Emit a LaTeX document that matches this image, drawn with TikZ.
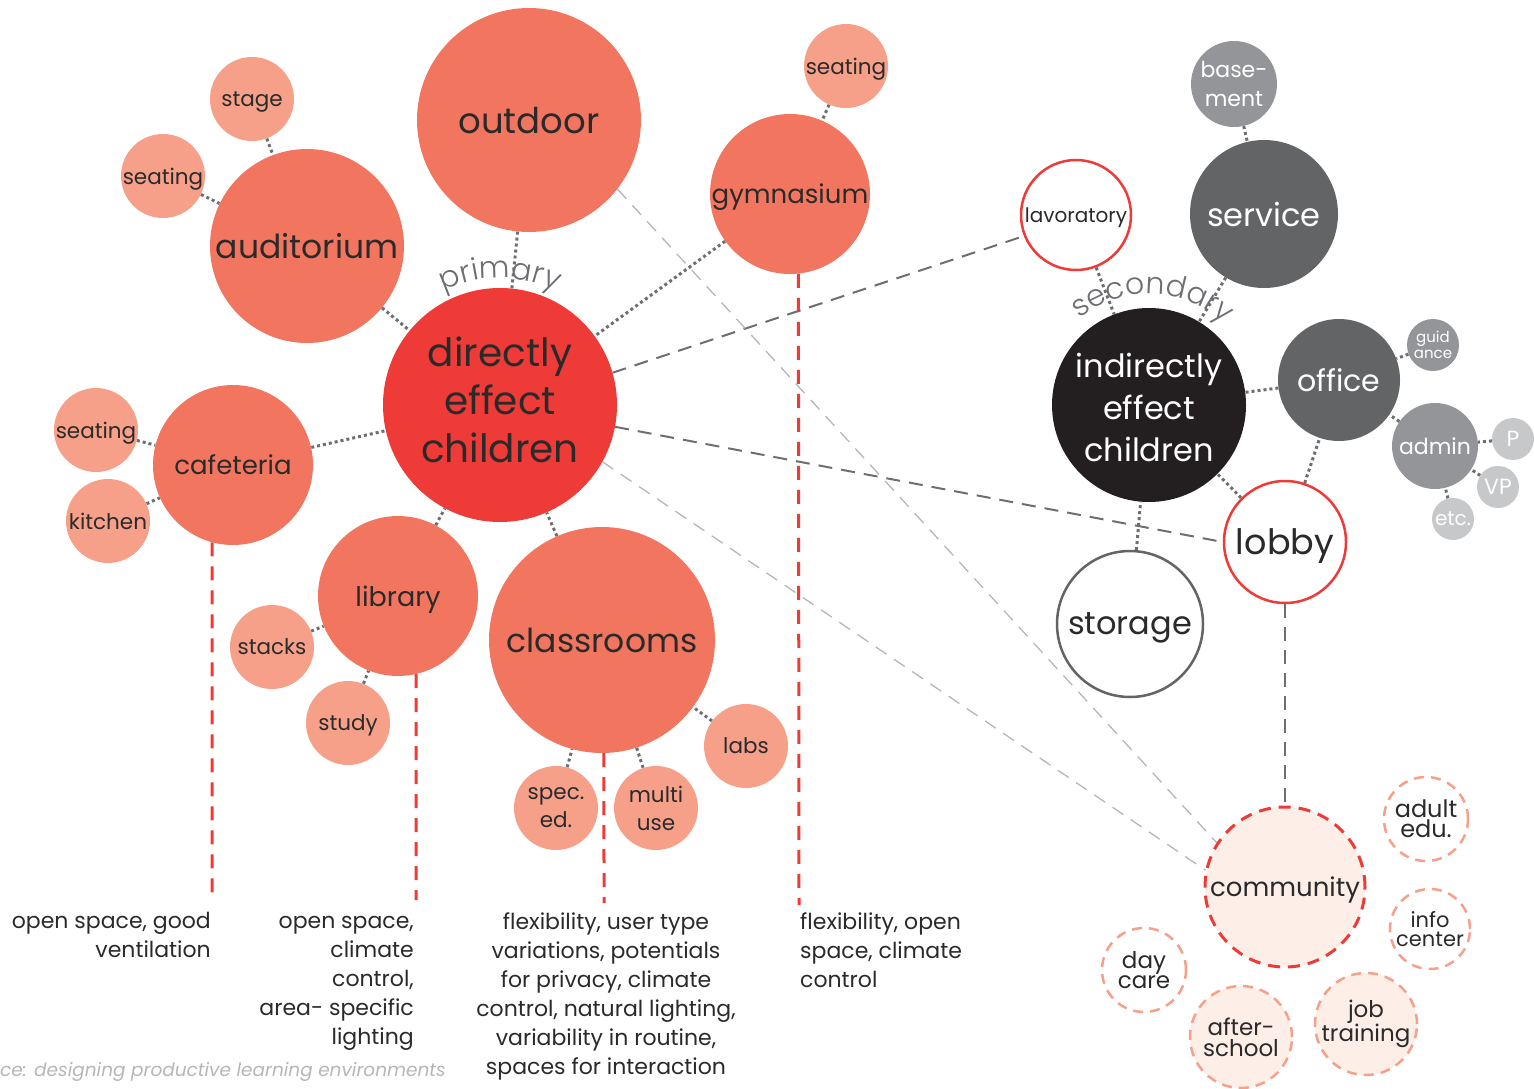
\documentclass[tikz,border=0pt]{standalone}
\usepackage{fontspec}
\setmainfont{Poppins}
\newfontfamily\thinfont{Poppins Light}
\usetikzlibrary{positioning, decorations.text}
\usetikzlibrary{backgrounds}

\definecolor{hotred}{HTML}{EE3B37}
\definecolor{salmon}{HTML}{F2765F}
\definecolor{peach}{HTML}{F6A08A}
\definecolor{blush}{HTML}{FDEEE8}
\definecolor{ink}{HTML}{2B2A2B}
\definecolor{coal}{HTML}{231F20}
\definecolor{slate}{HTML}{636466}
\definecolor{ash}{HTML}{939598}
\definecolor{mist}{HTML}{C7C8CA}
\definecolor{wire}{HTML}{6D6E71}
\definecolor{haze}{HTML}{B4B6B9}

\newcommand{\setfs}[2]{\fontsize{#1}{#2}\selectfont}

\begin{document}
\begin{tikzpicture}[x=1pt, y=-1pt,
    bubble/.style={circle, inner sep=0pt, align=center, text=ink, minimum size=#1},
    flat/.style={text depth=0pt},
    twig/.style={bubble=84, fill=peach, font=\setfs{21.5}{28}},
    grey/.style={bubble=#1, fill=ash, text=white},
    ring/.style={bubble=#1, fill=white, draw=peach, line width=2.5pt, dash pattern=on 10pt off 7pt, font=\setfs{24}{20}},
    dots/.style={draw=wire, line width=3pt, dash pattern=on 3pt off 3pt},
    link/.style={draw=wire, line width=2pt, dash pattern=on 14pt off 9pt},
    faint/.style={draw=haze, line width=1.3pt, dash pattern=on 13pt off 9pt},
    redline/.style={draw=hotred, line width=3pt, dash pattern=on 14pt off 10pt},
    note/.style={inner sep=0pt, text=ink, font=\setfs{22}{29}}]
    \useasboundingbox (0,0) rectangle (1534,1089);

    % primary spaces
    \node[bubble=234, fill=hotred, font=\setfs{39}{48}, text depth=10pt] (direct) at (500,405) {directly\\effect\\children};
    \node[bubble=224, fill=salmon, font=\setfs{35.5}{40}, flat] (outdoor) at (529,120) {outdoor};
    \node[bubble=194, fill=salmon, font=\setfs{33}{40}, flat] (audit) at (307,246) {auditorium};
    \node[twig, flat] (stage) at (252,99) {stage};
    \node[twig, flat] (audseat) at (163,176) {seating};
    \node[bubble=160, fill=salmon, font=\setfs{26}{32}, flat] (gym) at (790,194) {gymnasium};
    \node[twig, flat] (gymseat) at (846,66) {seating};
    \node[bubble=160, fill=salmon, font=\setfs{26}{32}, flat] (cafe) at (233,465) {cafeteria};
    \node[twig, flat] (cafeseat) at (96,430) {seating};
    \node[twig, flat] (kitchen) at (108,521) {kitchen};
    \node[bubble=160, fill=salmon, font=\setfs{27}{32}, flat] (library) at (398,596) {library};
    \node[twig, flat] (stacks) at (272,647) {stacks};
    \node[twig, flat] (study) at (348,723) {study};
    \node[bubble=226, fill=salmon, font=\setfs{33}{40}, flat] (class) at (602,640) {classrooms};
    \node[twig] (speced) at (556,808) {spec.\\ed.};
    \node[twig] (multi) at (656,808) {multi\\use};
    \node[twig, flat] (labs) at (746,746) {labs};

    % secondary spaces
    \node[bubble=194, fill=coal, text=white, font=\setfs{32}{42}, text height=114pt] (indirect) at (1149,405) {indirectly\\effect\\children};
    \node[bubble=148, fill=slate, text=white, font=\setfs{32}{40}, flat] (service) at (1264,214) {service};
    \node[grey=86, font=\setfs{22}{29}] (basement) at (1234,84) {base-\\ment};
    \node[bubble=110, fill=white, draw=hotred, line width=2.5pt, font=\setfs{20}{26}, flat] (lav) at (1076,215) {lavoratory};
    \node[bubble=122, fill=slate, text=white, font=\setfs{30}{36}, flat] (office) at (1339,380) {office};
    \node[grey=52, font=\setfs{15}{16}] (guid) at (1433,345) {guid\\ance};
    \node[grey=86, font=\setfs{22}{26}, flat] (admin) at (1435,446) {admin};
    \node[grey=42, fill=mist, font=\setfs{22}{26}, flat] (pnode) at (1513,439) {P};
    \node[grey=42, fill=mist, font=\setfs{22}{26}, flat] (vp) at (1498,487) {VP};
    \node[grey=42, fill=mist, font=\setfs{20}{26}, flat] (etc) at (1453,519) {etc.};
    \node[bubble=122, fill=white, draw=hotred, line width=2.5pt, font=\setfs{35}{40}, flat] (lobby) at (1285,542) {lobby};
    \node[bubble=146, fill=white, draw=slate, line width=2.5pt, font=\setfs{32}{38}, flat] (storage) at (1130,624) {storage};

    % community
    \node[bubble=160, fill=blush, draw=hotred, line width=3pt, dash pattern=on 12pt off 8pt, font=\setfs{26}{32}, flat] (community) at (1285,887) {community};
    \node[ring=84] (adult) at (1426,819) {adult\\edu.};
    \node[ring=80, font=\setfs{21}{19}] (info) at (1430,929) {info\\center};
    \node[ring=84, font=\setfs{23}{20}] (daycare) at (1144,970) {day\\care};
    \node[ring=102, fill=blush, font=\setfs{23}{21}] (after) at (1241,1037) {after-\\school};
    \node[ring=102, fill=blush, font=\setfs{23}{21}] (job) at (1366,1024) {job\\training};

    % ends of the red leaders
    \coordinate (cafeEnd) at (212,895);
    \coordinate (libEnd) at (416,900);
    \coordinate (classEnd) at (604,903);
    \coordinate (gymEnd) at (799,905);

    \begin{pgfonlayer}{background}
        % Draw edges
        \draw[dots] (outdoor) -- (direct);
        \draw[dots] (audit) -- (direct);
        \draw[dots] (stage) -- (audit);
        \draw[dots] (audseat) -- (audit);
        \draw[dots] (gym) -- (direct);
        \draw[dots] (gymseat) -- (gym);
        \draw[dots] (cafe) -- (direct);
        \draw[dots] (cafeseat) -- (cafe);
        \draw[dots] (kitchen) -- (cafe);
        \draw[dots] (library) -- (direct);
        \draw[dots] (stacks) -- (library);
        \draw[dots] (study) -- (library);
        \draw[dots] (class) -- (direct);
        \draw[dots] (speced) -- (class);
        \draw[dots] (multi) -- (class);
        \draw[dots] (labs) -- (class);

        \draw[dots] (lav) -- (indirect);
        \draw[dots] (service) -- (indirect);
        \draw[dots] (basement) -- (service);
        \draw[dots] (office) -- (indirect);
        \draw[dots] (guid) -- (office);
        \draw[dots] (admin) -- (office);
        \draw[dots] (pnode) -- (admin);
        \draw[dots] (vp) -- (admin);
        \draw[dots] (etc) -- (admin);
        \draw[dots] (lobby) -- (office);
        \draw[dots] (lobby) -- (indirect);
        \draw[dots] (storage) -- (indirect);

        % cross links
        \draw[link] (direct.16) -- (lav.202);
        \draw[link] (direct) -- (lobby.west);
        \draw[link, line width=1.5pt] (lobby) -- (community);
        \draw[faint] (outdoor.-38) -- (community.147);
        \draw[faint] (direct.-29) -- (community.168);

        \draw[redline] (cafe.255) -- (cafeEnd);
        \draw[redline] (library.283) -- (libEnd);
        \draw[redline] (class.271) -- (classEnd);
        \draw[redline] (gym.276.5) -- (gymEnd);
    \end{pgfonlayer}

    % arc labels
    \path[decorate, decoration={text along path, text align=center,
        text={|\thinfont\setfs{30}{30}\color{wire}|primary}}]
        ([shift={(-124:127)}]direct.center) arc[start angle=-124, end angle=-56, radius=127];
    \path[decorate, decoration={text along path, text align=center,
        text={|\thinfont\setfs{30}{30}\color{wire}|secondary}}]
        ([shift={(-138:111)}]indirect.center) arc[start angle=-138, end angle=-38, radius=111];

    % notes under the leaders
    \node[note, anchor=north east, align=right] (cafenote) at (211,912) {open space, good\\ventilation};
    \node[note, anchor=north east, align=right] (libnote) at (414,916) {open space,\\climate\\control,\\area- specific\\lighting};
    \node[note, anchor=north, align=center] (classnote) at (606,912) {flexibility, user type\\variations, potentials\\for privacy, climate\\control, natural lighting,\\variability in routine,\\spaces for interaction};
    \node[note, anchor=north west, align=left] (gymnote) at (800,912) {flexibility, open\\space, climate\\control};
    \node[anchor=base west, inner sep=0pt, text=haze, font=\itshape\setfs{18.5}{24}] (source) at (0,1076) {ce: designing productive learning environments};
\end{tikzpicture}
\end{document}
